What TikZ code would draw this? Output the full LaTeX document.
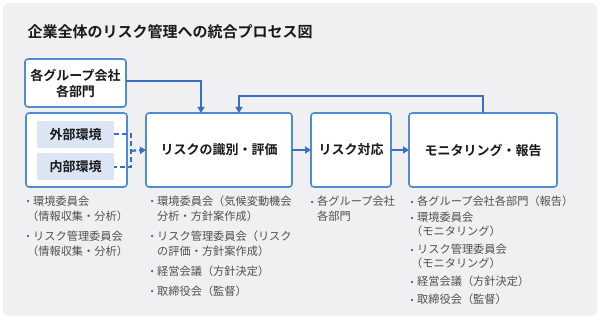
\documentclass[tikz,border=0pt]{standalone}
\usepackage{fontspec}
\setmainfont{Noto Sans CJK JP}[BoldFont={Noto Sans CJK JP Bold}]
\newfontfamily\symfont{DejaVu Sans}
\usepackage{tikz}
\usetikzlibrary{positioning,arrows.meta,calc}
\definecolor{bgray}{RGB}{240,240,243}
\definecolor{frameblue}{RGB}{80,140,212}
\definecolor{lineblue}{RGB}{58,110,196}
\definecolor{paleblue}{RGB}{220,229,244}
\definecolor{txtgray}{RGB}{80,80,80}
\tikzset{
    stage/.style={rectangle,draw=frameblue,line width=1.6pt,outer sep=0pt,fill=white,rounded corners=3pt,inner sep=2pt,font=\fontsize{13}{16}\selectfont\bfseries,text=black!90,align=center},
    factor/.style={rectangle,fill=paleblue,minimum width=77pt,minimum height=27pt,inner sep=0pt,font=\fontsize{13}{16}\selectfont\bfseries,text=black!90},
    arr/.style={-{Triangle[length=6pt,width=7pt]},line width=2.2pt,draw=lineblue},
    dashln/.style={dash pattern=on 5pt off 3pt,line width=2pt,draw=lineblue},
    notes/.style={anchor=north west,inner sep=0pt,align=left,text=txtgray,font=\fontsize{11.2}{15}\selectfont},
}
\newcommand{\bul}{\llap{\raisebox{0.5pt}{\textcolor{lineblue}{\symfont\fontsize{8}{8}\selectfont •}}\hspace{2.5pt}}}
\newcommand{\opn}{\kern-6pt}

\begin{document}
\begin{tikzpicture}[x=1pt,y=-1pt]
\useasboundingbox (0,0) rectangle (600,320);
\fill[bgray,rounded corners=6pt] (3,3) rectangle (597,316);
\node[anchor=west,font=\fontsize{15}{18}\selectfont\bfseries,text=black!90] (title) at (24,32) {企業全体のリスク管理への統合プロセス図};

% stages
\node[stage,minimum width=101pt,minimum height=48pt] (grp) at (75.5,83) {各グループ会社\\各部門};
\node[stage,minimum width=101pt,minimum height=74pt] (env) at (76.5,150) {};
\node[factor] (ext) at (75.5,134.5) {外部環境};
\node[factor] (int) at (75.5,167) {内部環境};
\node[stage,minimum width=146pt,minimum height=74pt,right=19pt of env] (ident) {リスクの識別・評価};
\node[stage,minimum width=80pt,minimum height=74pt,right=19pt of ident] (resp) {リスク対応};
\node[stage,minimum width=148pt,minimum height=74pt,right=18pt of resp] (mon) {モニタリング・報告};

% connectors
\coordinate (join) at ($(ext.east)!0.5!(int.east)+(17,0)$);
\draw[dashln] (ext.east) -| (join) |- (int.east);
\draw[arr,dash pattern=on 5pt off 3pt] (join) -- (ident.west);
\draw[arr] ([yshift=2pt]grp.east) -| ([xshift=-18pt]ident.north);
\draw[arr] (mon.north) -- ++(0,-17) -| ([xshift=20pt]ident.north);
\draw[arr] (ident) -- (resp);
\draw[arr] (resp) -- (mon);

% notes
\node[notes] (n1) at (33,195.5) {\bul 環境委員会\\\opn（情報収集・分析）\\[5pt]\bul リスク管理委員会\\\opn（情報収集・分析）};
\node[notes] (n2) at (157,195.5) {\bul 環境委員会（気候変動機会\\分析・方針案作成）\\[5pt]\bul リスク管理委員会（リスク\\の評価・方針案作成）\\[5pt]\bul 経営会議（方針決定）\\[5pt]\bul 取締役会（監督）};
\node[notes] (n3) at (317,196) {\bul 各グループ会社\\各部門};
\node[notes,font=\fontsize{11.2}{14}\selectfont] (n4) at (417,196) {\bul 各グループ会社各部門（報告）\\[2pt]\bul 環境委員会\\\opn（モニタリング）\\[4pt]\bul リスク管理委員会\\\opn（モニタリング）\\[4pt]\bul 経営会議（方針決定）\\[4pt]\bul 取締役会（監督）};
\end{tikzpicture}
\end{document}
